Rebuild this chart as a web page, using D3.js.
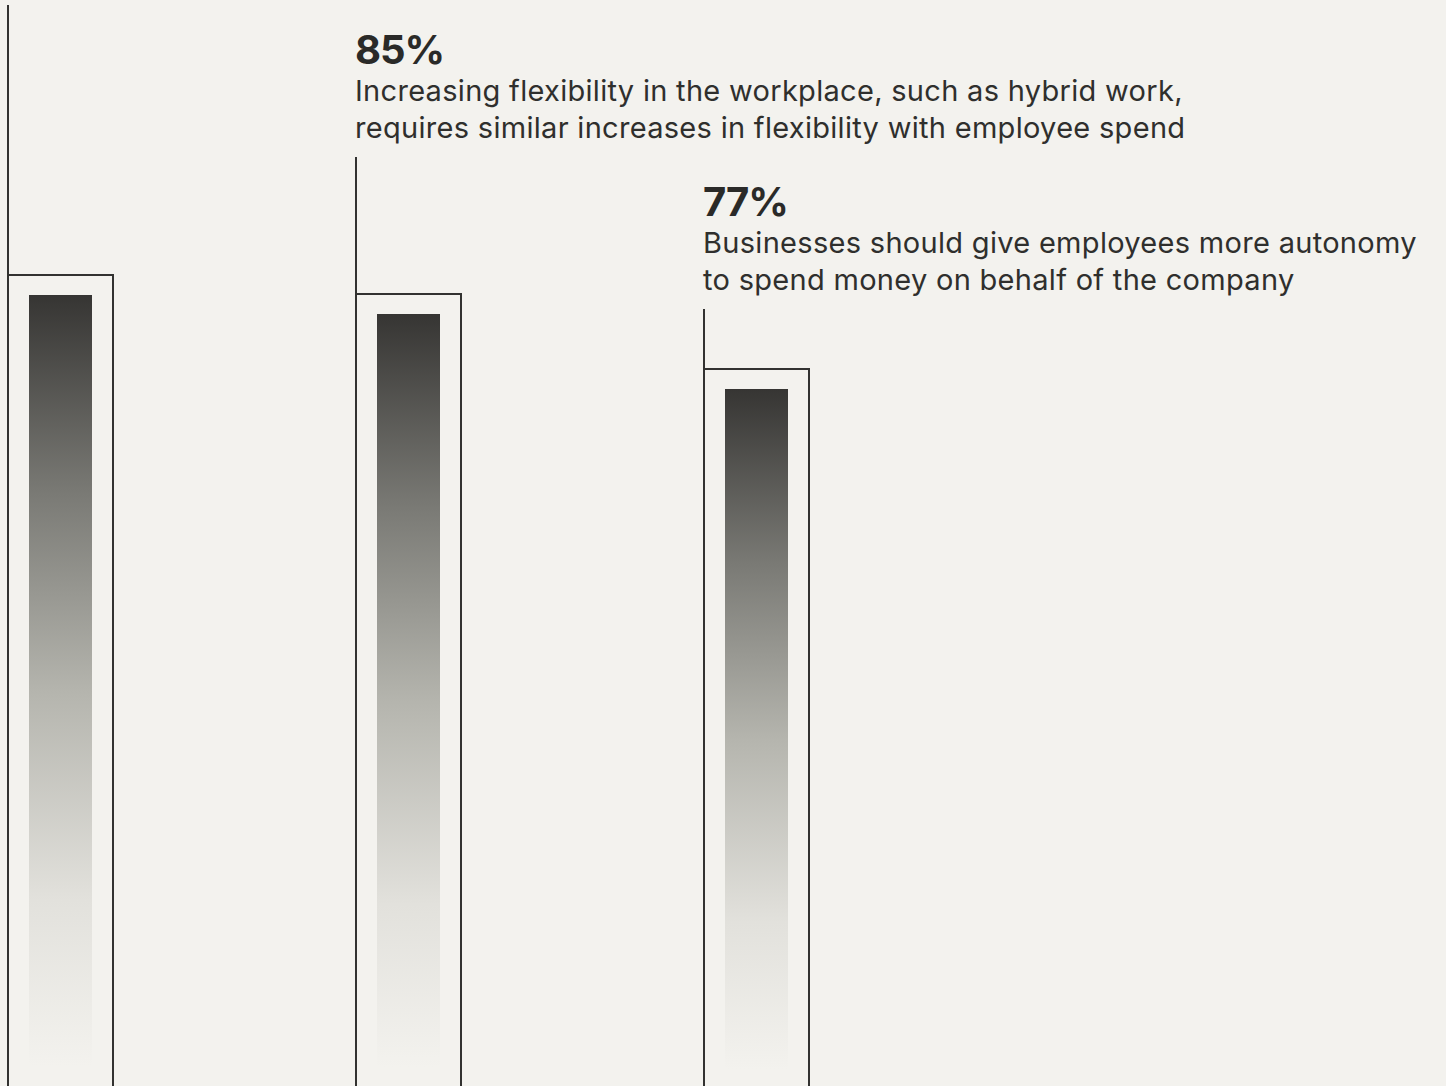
<!DOCTYPE html>
<html>
<head>
<meta charset="utf-8">
<script src="https://cdn.jsdelivr.net/npm/d3@7/dist/d3.min.js"></script>
<style>
  html, body { margin: 0; padding: 0; background: #f3f2ee; }
  svg { display: block; }
</style>
</head>
<body>
<script>
// Survey statements and share of respondents agreeing (%)
const categories = ["autonomy-first", "hybrid-flexibility", "spend-autonomy"];
const values = [87, 85, 77];
const valueLabels = [null, "85%", "77%"];
const descriptions = [
  null,
  ["Increasing flexibility in the workplace, such as hybrid work,",
   "requires similar increases in flexibility with employee spend"],
  ["Businesses should give employees more autonomy",
   "to spend money on behalf of the company"]
];

const W = 1446, H = 1086;
const ink = "#323230";
const bg = "#f3f2ee";

const svg = d3.select("body").append("svg")
  .attr("width", W).attr("height", H);

svg.append("rect").attr("width", W).attr("height", H).attr("fill", bg);

// Vertical gradient used by the inner bars: dark at the top, fading into the page
const defs = svg.append("defs");
const grad = defs.append("linearGradient")
  .attr("id", "barFade")
  .attr("x1", 0).attr("y1", 0).attr("x2", 0).attr("y2", 1);
[
  [0.00, "#363533"],
  [0.25, "#7a7a75"],
  [0.50, "#b5b5ae"],
  [0.76, "#e2e1dc"],
  [0.97, "#f3f2ee"],
  [1.00, "#f3f2ee"]
].forEach(([o, c]) => grad.append("stop").attr("offset", o).attr("stop-color", c));

const x = d3.scaleBand()
  .domain(categories)
  .range([8, 809])
  .paddingInner(0.6987)
  .paddingOuter(0);

const y = d3.scaleLinear().domain([0, 100]).range([1091, 153.5]);

const inset = 21;      // gap between frame and inner bar, horizontally
const insetTop = 20;   // gap between frame top and inner bar top
const labelStep = 152; // vertical stagger between successive labels

const rows = categories.map((c, i) => ({
  key: c,
  value: values[i],
  label: valueLabels[i],
  desc: descriptions[i],
  labelY: 64 + (i - 1) * labelStep
}));

const g = svg.selectAll("g.bar").data(rows).join("g").attr("class", "bar");

// Inner gradient bar
g.append("rect")
  .attr("x", d => Math.round(x(d.key)) + inset)
  .attr("y", d => Math.round(y(d.value)) + insetTop)
  .attr("width", Math.round(x.bandwidth()) - 2 * inset)
  .attr("height", d => y(0) - y(d.value) - insetTop)
  .attr("fill", "url(#barFade)");

// Outline frame
g.append("rect")
  .attr("x", d => Math.round(x(d.key)))
  .attr("y", d => Math.round(y(d.value)))
  .attr("width", Math.round(x.bandwidth()))
  .attr("height", d => y(0) - y(d.value) + 10)
  .attr("fill", "none")
  .attr("stroke", ink)
  .attr("stroke-width", 2);

// Leader line from the label block down to the frame
g.append("line")
  .attr("x1", d => Math.round(x(d.key))).attr("x2", d => Math.round(x(d.key)))
  .attr("y1", d => d.labelY + 93)
  .attr("y2", d => Math.round(y(d.value)))
  .attr("stroke", ink)
  .attr("stroke-width", 2);

// Value and statement text
const lab = g.filter(d => d.label);
lab.append("text")
  .attr("x", d => Math.round(x(d.key)) - 1)
  .attr("y", d => d.labelY)
  .attr("font-family", "Inter, 'Noto Sans', sans-serif")
  .attr("font-weight", 700)
  .attr("font-size", 40)
  .attr("letter-spacing", -1)
  .attr("fill", "#2a2a28")
  .text(d => d.label);

lab.each(function(d) {
  const t = d3.select(this).append("text")
    .attr("font-family", "Inter, 'Noto Sans', sans-serif")
    .attr("font-size", 29)
    .attr("letter-spacing", 0.3)
    .attr("fill", "#2f2f2d");
  d.desc.forEach((line, j) => {
    t.append("tspan")
      .attr("x", Math.round(x(d.key)) - 1)
      .attr("y", d.labelY + 37 + j * 37)
      .text(line);
  });
});
</script>
</body>
</html>
